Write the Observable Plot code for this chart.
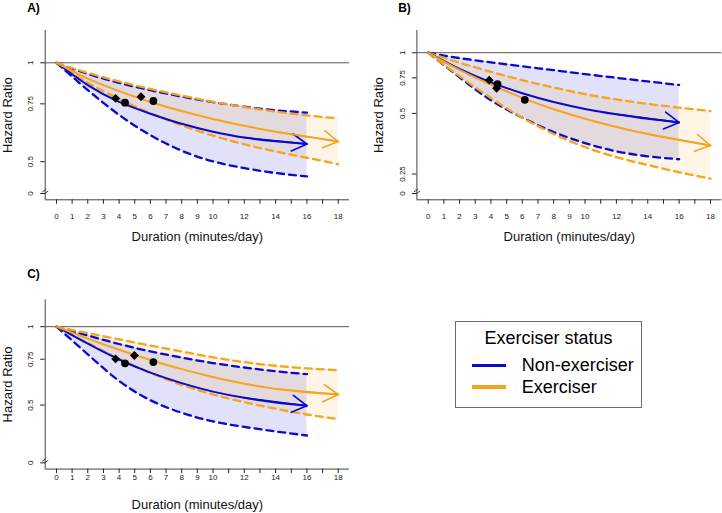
<!DOCTYPE html>
<html><head><meta charset="utf-8">
<script src="https://cdn.jsdelivr.net/npm/d3@7"></script>
<script src="https://cdn.jsdelivr.net/npm/@observablehq/plot@0.6"></script>
<style>
body{margin:0;background:#fff;font-family:"Liberation Sans",Arial,Helvetica,sans-serif;}
#root{position:relative;width:722px;height:513px;overflow:hidden;background:#fff;}
.panel{position:absolute;}
.panel svg{overflow:visible;}
#legend{position:absolute;box-sizing:border-box;border:1px solid #6a6a6a;background:#fff;}
#legend .t{position:absolute;left:0;width:100%;text-align:center;font-size:18px;line-height:18px;}
#legend .sw{position:absolute;height:3.5px;}
#legend .lab{position:absolute;font-size:18px;line-height:18px;}
</style></head><body><div id="root"></div>
<script>
// ---------------- DATA ----------------
const durNon = [0, 2, 4, 6, 8, 10, 12, 14, 16];
const durEx  = [0, 2, 4, 6, 8, 10, 12, 14, 16, 18];
const xTicks = [0,1,2,3,4,5,6,7,8,9,10,11,12,13,14,15,16,17,18];
const xTickLabels = [0,1,2,3,4,5,6,7,8,9,10,12,14,16,18];
const xTitle = "Duration (minutes/day)";
const yTitle = "Hazard Ratio";
const seriesNames = ["Non-exerciser", "Exerciser"];
const legendTitle = "Exerciser status";
const panelLabels = ["A)", "B)", "C)"];

// Panel A
const A_non   = [1, 0.855, 0.760, 0.700, 0.652, 0.617, 0.592, 0.577, 0.566];
const A_nonLo = [1, 0.826, 0.694, 0.602, 0.540, 0.501, 0.478, 0.462, 0.451];
const A_nonHi = [1, 0.925, 0.869, 0.825, 0.789, 0.759, 0.735, 0.717, 0.705];
const A_ex    = [1, 0.895, 0.820, 0.760, 0.713, 0.674, 0.643, 0.617, 0.596, 0.576];
const A_exLo  = [1, 0.870, 0.776, 0.702, 0.645, 0.600, 0.565, 0.537, 0.514, 0.491];
const A_exHi  = [1, 0.932, 0.878, 0.833, 0.795, 0.761, 0.733, 0.710, 0.692, 0.677];
const A_ptD   = [3.78, 5.40, 4.38, 6.19];
const A_ptHR  = [0.779, 0.788, 0.756, 0.765];
const A_ptShape = ["diamond", "diamond", "circle", "circle"];
const A_yTicks = [1, 0.75, 0.5, 0.4];
const A_yTickLabels = ["1", "0.75", "0.5", "0"];
const A_ylim = [0.4, 1.2];

// Panel B
const B_non   = [1, 0.830, 0.713, 0.629, 0.569, 0.526, 0.495, 0.470, 0.451];
const B_nonLo = [1, 0.755, 0.581, 0.476, 0.404, 0.356, 0.324, 0.306, 0.296];
const B_nonHi = [1, 0.940, 0.896, 0.856, 0.819, 0.783, 0.751, 0.720, 0.692];
const B_ex    = [1, 0.822, 0.694, 0.597, 0.524, 0.470, 0.428, 0.395, 0.369, 0.346];
const B_exLo  = [1, 0.765, 0.596, 0.476, 0.395, 0.340, 0.303, 0.277, 0.255, 0.237];
const B_exHi  = [1, 0.893, 0.804, 0.731, 0.672, 0.623, 0.586, 0.557, 0.534, 0.513];
const B_ptD   = [3.89, 4.36, 4.42, 6.16];
const B_ptHR  = [0.731, 0.666, 0.698, 0.584];
const B_ptShape = ["diamond", "diamond", "circle", "circle"];
const B_yTicks = [1, 0.75, 0.5, 0.25, 0.2];
const B_yTickLabels = ["1", "0.75", "0.5", "0.25", "0"];
const B_ylim = [0.2, 1.2];

// Panel C
const C_non   = [1, 0.860, 0.748, 0.666, 0.607, 0.563, 0.533, 0.512, 0.497];
const C_nonLo = [1, 0.783, 0.619, 0.522, 0.467, 0.433, 0.412, 0.396, 0.382];
const C_nonHi = [1, 0.925, 0.858, 0.804, 0.761, 0.725, 0.697, 0.674, 0.657];
const C_ex    = [1, 0.900, 0.815, 0.745, 0.687, 0.641, 0.604, 0.577, 0.560, 0.549];
const C_exLo  = [1, 0.865, 0.752, 0.664, 0.598, 0.549, 0.513, 0.484, 0.460, 0.442];
const C_exHi  = [1, 0.945, 0.894, 0.846, 0.803, 0.763, 0.731, 0.708, 0.692, 0.680];
const C_ptD   = [3.78, 4.98, 4.38, 6.19];
const C_ptHR  = [0.752, 0.775, 0.723, 0.731];
const C_ptShape = ["diamond", "diamond", "circle", "circle"];
const C_yTicks = [1, 0.75, 0.5, 0.3];
const C_yTickLabels = ["1", "0.75", "0.5", "0"];
const C_ylim = [0.3, 1.2];

const xlim = [0, 18];

// ---------------- STYLE / LAYOUT ----------------
const BLUE = "#0a0acd";
const ORANGE = "#f5a41d";
const FONT = '"Liberation Sans", Arial, Helvetica, sans-serif';

const panels = [
  {label: panelLabels[0], non: A_non, nonLo: A_nonLo, nonHi: A_nonHi, ex: A_ex, exLo: A_exLo, exHi: A_exHi,
   ptD: A_ptD, ptHR: A_ptHR, ptShape: A_ptShape, yTicks: A_yTicks, yTickLabels: A_yTickLabels, ylim: A_ylim,
   left: 0, top: 0, width: 361, height: 256, mL: 44.7, mR: 12, mT: 30, mB: 56.7,
   xPad: 9.4, xTitleDy: 37.4, yTitleX: 7, yLabX: 30, labX: 26.7, labBase: 11},
  {label: panelLabels[1], non: B_non, nonLo: B_nonLo, nonHi: B_nonHi, ex: B_ex, exLo: B_exLo, exHi: B_exHi,
   ptD: B_ptD, ptHR: B_ptHR, ptShape: B_ptShape, yTicks: B_yTicks, yTickLabels: B_yTickLabels, ylim: B_ylim,
   left: 361, top: 0, width: 361, height: 256, mL: 55.4, mR: 0.7, mT: 30, mB: 56.7,
   xPad: 9.4, xTitleDy: 37.4, yTitleX: 17, yLabX: 40.7, labX: 36.7, labBase: 11},
  {label: panelLabels[2], non: C_non, nonLo: C_nonLo, nonHi: C_nonHi, ex: C_ex, exLo: C_exLo, exHi: C_exHi,
   ptD: C_ptD, ptHR: C_ptHR, ptShape: C_ptShape, yTicks: C_yTicks, yTickLabels: C_yTickLabels, ylim: C_ylim,
   left: 0, top: 256, width: 361, height: 257, mL: 44.7, mR: 12, mT: 43.3, mB: 44.4,
   xPad: 1, xTitleDy: 35.7, yTitleX: 7, yLabX: 30, labX: 26.7, labBase: 21}
];

const breakSymbol = {
  draw(ctx, size) {
    ctx.moveTo(-3, 0.5); ctx.lineTo(1, -2.5);
    ctx.moveTo(-1, 2.5); ctx.lineTo(3, -0.5);
  }
};

function makePanel(p) {
  const xs = xlim[1] - xlim[0];
  const xDom = [xlim[0] - 0.04 * xs, xlim[1] + 0.04 * xs];
  const lnLo = Math.log(p.ylim[0]), lnHi = Math.log(p.ylim[1]), s = lnHi - lnLo;
  const yDom = [Math.exp(lnLo - 0.04 * s), Math.exp(lnHi + 0.04 * s)];

  const non = durNon.map((d, i) => ({d, hr: p.non[i], lo: p.nonLo[i], hi: p.nonHi[i]}));
  const ex = durEx.map((d, i) => ({d, hr: p.ex[i], lo: p.exLo[i], hi: p.exHi[i]}));
  const pts = p.ptD.map((d, i) => ({d, hr: p.ptHR[i], shape: p.ptShape[i]}));
  const nN = non.length, nE = ex.length;
  const arrNon = [{x1: non[nN - 3].d, y1: non[nN - 3].hr, x2: non[nN - 1].d, y2: non[nN - 1].hr}];
  const arrEx = [{x1: ex[nE - 3].d, y1: ex[nE - 3].hr, x2: ex[nE - 1].d, y2: ex[nE - 1].hr}];
  const yLab = p.yTicks.map((v, i) => ({v, t: p.yTickLabels[i]}));
  const breakVal = p.yTicks[p.yTicks.length - 1];
  const curve = "natural";
  const dash = "7,5";

  return Plot.plot({
    width: p.width, height: p.height,
    marginLeft: p.mL, marginRight: p.mR, marginTop: p.mT, marginBottom: p.mB,
    x: {domain: xDom, axis: null},
    y: {type: "log", domain: yDom, axis: null},
    style: {fontFamily: FONT, background: "transparent", color: "#000"},
    marks: [
      Plot.areaY(non, {x: "d", y1: "lo", y2: "hi", fill: BLUE, fillOpacity: 0.12, curve}),
      Plot.areaY(ex, {x: "d", y1: "lo", y2: "hi", fill: ORANGE, fillOpacity: 0.11, curve}),
      Plot.ruleY([1], {stroke: "#555", strokeWidth: 1}),
      Plot.lineY(non, {x: "d", y: "hi", stroke: BLUE, strokeWidth: 2.3, strokeDasharray: dash, curve}),
      Plot.lineY(non, {x: "d", y: "lo", stroke: BLUE, strokeWidth: 2.3, strokeDasharray: dash, curve}),
      Plot.lineY(ex, {x: "d", y: "hi", stroke: ORANGE, strokeWidth: 2.3, strokeDasharray: dash, curve}),
      Plot.lineY(ex, {x: "d", y: "lo", stroke: ORANGE, strokeWidth: 2.3, strokeDasharray: dash, curve}),
      Plot.lineY(non, {x: "d", y: "hr", stroke: BLUE, strokeWidth: 2, curve}),
      Plot.lineY(ex, {x: "d", y: "hr", stroke: ORANGE, strokeWidth: 2, curve}),
      Plot.arrow(arrNon, {x1: "x1", y1: "y1", x2: "x2", y2: "y2", stroke: BLUE, strokeWidth: 1.6, headLength: 16, headAngle: 60}),
      Plot.arrow(arrEx, {x1: "x1", y1: "y1", x2: "x2", y2: "y2", stroke: ORANGE, strokeWidth: 1.6, headLength: 16, headAngle: 60}),
      Plot.dot(pts, {filter: d => d.shape === "circle", x: "d", y: "hr", symbol: "circle", fill: "#000", r: 3.9}),
      Plot.dot(pts, {filter: d => d.shape === "diamond", x: "d", y: "hr", symbol: "diamond2", fill: "#000", r: 4}),
      // L-shaped box
      Plot.ruleX([xDom[0]], {stroke: "#444", strokeWidth: 1}),
      Plot.ruleY([yDom[0]], {stroke: "#444", strokeWidth: 1}),
      // axes
      Plot.axisX({ticks: xTicks, tickFormat: d => xTickLabels.includes(d) ? String(d) : "",
        tickSize: 4.5, tickPadding: p.xPad, fontSize: 8, label: null, color: "#222"}),
      Plot.axisY({ticks: p.yTicks, tickFormat: () => "", tickSize: 4.5, label: null, color: "#222"}),
      Plot.text(yLab, {y: "v", text: "t", frameAnchor: "left", textAnchor: "middle", lineAnchor: "middle",
        dx: p.yLabX - p.mL, rotate: -90, fontSize: 8, fill: "#111"}),
      Plot.dot([breakVal], {x: () => xDom[0], y: d => d, symbol: breakSymbol, stroke: "#333", strokeWidth: 1, fill: "none", r: 3, dy: -2}),
      Plot.text([xTitle], {text: d => d, frameAnchor: "bottom", textAnchor: "middle", lineAnchor: "middle",
        dy: p.xTitleDy, fontSize: 13, fill: "#111"}),
      Plot.text([yTitle], {text: d => d, frameAnchor: "left", textAnchor: "middle", lineAnchor: "middle",
        dx: p.yTitleX - p.mL, rotate: -90, fontSize: 13, fill: "#111"}),
      Plot.text([p.label], {text: d => d, frameAnchor: "top-left", dx: p.labX - p.mL, dy: p.labBase - p.mT,
        textAnchor: "start", lineAnchor: "bottom", fontWeight: "bold", fontSize: 12, fill: "#000"})
    ]
  });
}

const root = document.getElementById("root");
for (const p of panels) {
  const div = document.createElement("div");
  div.className = "panel";
  div.style.left = p.left + "px";
  div.style.top = p.top + "px";
  div.appendChild(makePanel(p));
  root.appendChild(div);
}

// Legend
const lg = document.createElement("div");
lg.id = "legend";
Object.assign(lg.style, {left: "455.3px", top: "321px", width: "186.4px", height: "86.7px"});
const t = document.createElement("div");
t.className = "t"; t.textContent = legendTitle; t.style.top = "7px";
lg.appendChild(t);
const colors = [BLUE, ORANGE];
const rowY = [43.3, 65];
seriesNames.forEach((name, i) => {
  const sw = document.createElement("div");
  sw.className = "sw";
  Object.assign(sw.style, {left: "15.7px", width: "34px", top: (rowY[i] - 1.75) + "px", background: colors[i]});
  lg.appendChild(sw);
  const lab = document.createElement("div");
  lab.className = "lab"; lab.textContent = name;
  Object.assign(lab.style, {left: "65.5px", top: (rowY[i] - 9) + "px"});
  lg.appendChild(lab);
});
root.appendChild(lg);
</script>
</body></html>
